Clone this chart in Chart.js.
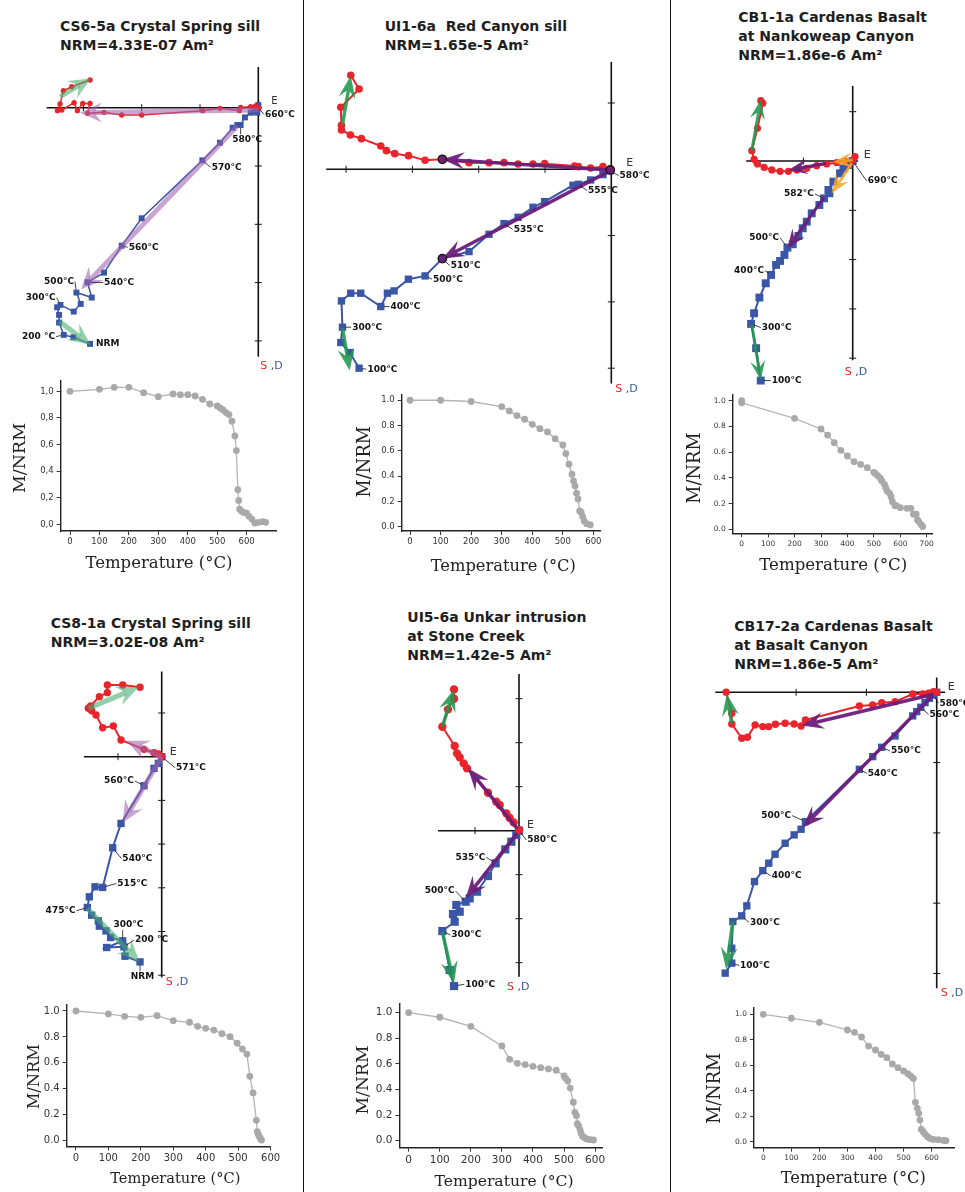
<!DOCTYPE html>
<html><head><meta charset="utf-8">
<script src="https://cdn.jsdelivr.net/npm/chart.js@4.4.1/dist/chart.umd.min.js"></script>
<style>
html,body{margin:0;padding:0;background:#fff;}
body{width:965px;height:1192px;position:relative;overflow:hidden;}
canvas{position:absolute;}
.ttl{position:absolute;font-family:"DejaVu Sans";font-weight:bold;font-size:14px;line-height:18.8px;color:#1e1e1e;white-space:pre;}
.sep{position:absolute;top:0;width:1.5px;height:1192px;background:#111;}
</style></head><body>
<div class="sep" style="left:302.5px"></div>
<div class="sep" style="left:669.5px"></div>
<script>
// ---------------- DATA ----------------
// Panel 1: CS6-5a
const p1Title = ['CS6-5a Crystal Spring sill', 'NRM=4.33E-07 Am²'];
const p1Horiz = [[-2.886,0.474],[-3.2,0.36],[-3.343,0.291],[-3.4,0.063],[-3.446,-0.051],[-3.371,-0.04],[-3.16,0.086],[-3.103,-0.051],[-3.011,0.074],[-2.886,0.074],[-2.931,-0.097],[-2.646,-0.08],[-2.343,-0.126],[-2.0,-0.126],[-0.954,-0.051],[-0.657,-0.011],[-0.326,-0.051],[-0.303,0.006],[-0.131,0.017],[-0.046,0.029],[0,0]];
const p1Vert = [[-2.886,-4.051],[-3.171,-3.937],[-3.337,-3.897],[-3.417,-3.686],[-3.417,-3.554],[-3.451,-3.423],[-3.394,-3.383],[-3.166,-3.497],[-3.046,-3.366],[-3.12,-3.171],[-2.857,-3.257],[-2.931,-2.994],[-2.646,-2.829],[-2.343,-2.366],[-2.0,-1.897],[-0.96,-0.903],[-0.657,-0.6],[-0.44,-0.343],[-0.36,-0.297],[-0.303,-0.297],[-0.229,-0.166],[-0.131,-0.086],[-0.057,-0.069],[0,0.046],[-0.017,-0.086],[0,0]];
const p1Arrows = [['green',-3.4,0.19,-2.874,0.503],['green',-3.411,-3.669,-2.874,-4.069],['purple',0,-0.04,-3.057,-0.086],['purple',-0.36,-0.314,-3.04,-3.114]];
const p1Labels = [[25,'660°C'],[19,'580°C'],[15,'570°C'],[13,'560°C'],[11,'540°C'],[9,'500°C'],[6,'300°C'],[2,'200 °C'],[0,'NRM']];
const p1Temp = [0,100,150,200,250,300,350,375,400,425,450,475,500,510,520,530,540,550,560,565,570,573,576,582,590,600,608,618,628,640,655,665];
const p1Mnrm = [1.0,1.015,1.03,1.03,0.99,0.96,0.98,0.975,0.975,0.965,0.94,0.905,0.89,0.875,0.86,0.84,0.825,0.775,0.665,0.555,0.26,0.18,0.115,0.1,0.09,0.085,0.06,0.04,0.01,0.015,0.02,0.015];

// Panel 2: UI1-6a
const p2Title = ['UI1-6a  Red Canyon sill', 'NRM=1.65e-5 Am²'];
const p2Horiz = [[-3.93,1.417],[-3.804,1.211],[-4.08,0.935],[-4.07,0.663],[-4.07,0.593],[-3.935,0.518],[-3.769,0.462],[-3.477,0.352],[-3.392,0.281],[-3.266,0.236],[-3.06,0.206],[-2.809,0.136],[-2.548,0.151],[-2.146,0.1],[-1.844,0.1],[-1.618,0.1],[-1.407,0.08],[-1.181,0.08],[-1.005,0.085],[-0.553,0.05],[-0.497,0.04],[-0.312,0.02],[-0.126,0.04],[-0.015,0]];
const p2Vert = [[-3.804,-3.0],[-3.945,-2.764],[-4.08,-2.613],[-4.055,-2.382],[-4.07,-1.985],[-3.93,-1.869],[-3.779,-1.869],[-3.477,-2.07],[-3.377,-1.869],[-3.276,-1.834],[-3.06,-1.658],[-2.809,-1.608],[-2.548,-1.347],[-2.146,-1.241],[-1.844,-0.98],[-1.618,-0.819],[-1.407,-0.724],[-1.181,-0.573],[-1.005,-0.487],[-0.578,-0.241],[-0.497,-0.226],[-0.312,-0.161],[-0.126,-0.08],[-0.015,-0.02]];
const p2Arrows = [['green',-4.055,0.668,-3.93,1.407],['green',-4.055,-2.397,-3.945,-3.035],['purple',-0.015,-0.01,-2.548,0.151],['purple',-0.015,-0.02,-2.548,-1.347]];
const p2Fit = [[-2.548,0.151],[-2.548,-1.347],[-0.015,-0.01]];
const p2Labels = [[23,'580°C'],[20,'555°C'],[15,'535°C'],[12,'510°C'],[11,'500°C'],[7,'400°C'],[3,'300°C'],[0,'100°C']];
const p2Temp = [0,100,200,300,325,350,375,400,425,450,475,500,510,520,530,535,540,545,550,555,560,565,570,578,590];
const p2Mnrm = [1.0,1.0,0.99,0.95,0.916,0.879,0.85,0.81,0.776,0.75,0.697,0.647,0.579,0.495,0.416,0.363,0.324,0.266,0.221,0.126,0.116,0.082,0.047,0.026,0.016];

// Panel 3: CB1-1a
const p3Title = ['CB1-1a Cardenas Basalt', 'at Nankoweap Canyon', 'NRM=1.86e-6 Am²'];
const p3Horiz = [[-1.865,1.223],[-1.824,1.169],[-1.932,0.662],[-2.047,0.209],[-2.0,0.034],[-1.932,-0.061],[-1.797,-0.128],[-1.642,-0.182],[-1.473,-0.209],[-1.304,-0.209],[-1.135,-0.182],[-0.932,-0.149],[-0.73,-0.095],[-0.527,-0.061],[-0.324,-0.034],[-0.155,-0.007],[0.047,0.088],[0,0]];
const p3Vert = [[-1.865,-4.453],[-1.959,-3.797],[-2.061,-3.304],[-2.0,-3.088],[-1.892,-2.77],[-1.764,-2.48],[-1.655,-2.311],[-1.554,-2.108],[-1.473,-2.027],[-1.385,-1.905],[-1.324,-1.757],[-1.216,-1.689],[-1.101,-1.52],[-1.014,-1.365],[-0.932,-1.23],[-0.831,-1.061],[-0.676,-0.892],[-0.581,-0.757],[-0.473,-0.655],[-0.493,-0.588],[-0.392,-0.419],[-0.257,-0.25],[-0.189,-0.149],[-0.088,-0.081],[0,0]];
const p3Arrows = [['green',-2.047,0.209,-1.865,1.236],['green',-2.047,-3.324,-1.865,-4.439],['purple',-0.541,-0.047,-1.304,-0.182],['purple',-0.581,-0.736,-1.324,-1.77],['orange',0,0.02,-0.405,-0.027],['orange',-0.02,-0.047,-0.426,-0.655]];
const p3Labels = [[24,'690°C'],[17,'582°C'],[10,'500°C'],[6,'400°C'],[2,'300°C'],[0,'100°C']];
const p3Temp = [0,0,200,300,325,350,375,400,425,450,475,500,505,515,525,530,540,545,550,560,565,570,580,585,600,625,640,650,660,665,670,678,685];
const p3Mnrm = [1.0,0.984,0.863,0.78,0.733,0.674,0.614,0.57,0.526,0.505,0.479,0.443,0.435,0.417,0.396,0.376,0.35,0.324,0.298,0.28,0.254,0.215,0.184,0.184,0.168,0.163,0.163,0.117,0.117,0.073,0.06,0.039,0.021];

// Panel 4: CS8-1a
const p4Title = ['CS8-1a Crystal Spring sill', 'NRM=3.02E-08 Am²'];
const p4Horiz = [[-0.496,1.588],[-0.893,1.641],[-1.244,1.641],[-1.244,1.466],[-1.427,1.374],[-1.626,1.16],[-1.679,1.107],[-1.603,1.053],[-1.504,0.954],[-1.351,0.664],[-1.107,0.702],[-0.931,0.382],[-0.405,0.168],[-0.176,0.092],[-0.076,0.061],[0,0]];
const p4Vert = [[-0.496,-4.695],[-0.84,-4.565],[-0.863,-4.351],[-1.26,-4.366],[-0.893,-4.214],[-1.168,-4.137],[-1.275,-3.985],[-1.427,-3.878],[-1.45,-3.756],[-1.603,-3.626],[-1.702,-3.45],[-1.656,-3.206],[-1.527,-2.977],[-1.351,-2.992],[-1.122,-2.084],[-0.931,-1.527],[-0.405,-0.664],[-0.176,-0.267],[-0.076,-0.153],[0,0]];
const p4Arrows = [['green',-1.679,1.107,-0.534,1.588],['green',-1.702,-3.473,-0.511,-4.695],['purple',0,0,-0.802,0.366],['purple',0,0,-0.893,-1.511]];
const p4Labels = [[19,'571°C'],[16,'560°C'],[14,'540°C'],[13,'515°C'],[10,'475°C'],[4,'300°C'],[2,'200 °C'],[0,'NRM']];
const p4Temp = [0,100,150,200,250,300,350,375,400,425,450,475,497,513,527,536,546,556,559,562,565,569,572];
const p4Mnrm = [1.0,0.977,0.959,0.951,0.964,0.925,0.913,0.882,0.866,0.853,0.825,0.802,0.751,0.707,0.668,0.496,0.368,0.157,0.069,0.049,0.033,0.013,0.005];

// Panel 5: UI5-6a
const p5Title = ['UI5-6a Unkar intrusion', 'at Stone Creek', 'NRM=1.42e-5 Am²'];
const p5Horiz = [[-1.477,3.212],[-1.477,3.0],[-1.614,2.758],[-1.742,2.364],[-1.462,1.924],[-1.409,1.758],[-1.348,1.667],[-1.258,1.53],[-1.182,1.417],[-0.705,0.864],[-0.515,0.659],[-0.439,0.583],[-0.288,0.394],[-0.212,0.288],[-0.121,0.189],[0,0.015]];
const p5Vert = [[-1.477,-3.53],[-1.576,-3.167],[-1.742,-2.28],[-1.462,-2.068],[-1.5,-1.894],[-1.348,-1.841],[-1.424,-1.689],[-1.212,-1.614],[-1.121,-1.538],[-0.955,-1.386],[-0.705,-1.03],[-0.53,-0.742],[-0.311,-0.424],[-0.174,-0.25],[-0.061,-0.098],[0,0]];
const p5Arrows = [['green',-1.742,2.364,-1.477,3.212],['green',-1.742,-2.295,-1.477,-3.47],['purple',-0.045,0.053,-1.159,1.417],['purple',-0.045,-0.061,-1.212,-1.538]];
const p5Labels = [[15,'580°C'],[11,'535°C'],[7,'500°C'],[2,'300°C'],[0,'100°C']];
const p5Temp = [0,100,200,300,325,350,375,400,425,450,475,500,505,512,520,530,535,540,543,547,552,555,559,566,573,584,595];
const p5Mnrm = [1.0,0.964,0.893,0.74,0.635,0.604,0.594,0.581,0.57,0.56,0.55,0.505,0.487,0.466,0.411,0.3,0.221,0.195,0.133,0.115,0.083,0.057,0.036,0.023,0.013,0.008,0.005];

// Panel 6: CB17-2a
const p6Title = ['CB17-2a Cardenas Basalt', 'at Basalt Canyon', 'NRM=1.86e-5 Am²'];
const p6Horiz = [[-2.995,0],[-2.915,-0.299],[-2.915,-0.45],[-2.773,-0.654],[-2.692,-0.64],[-2.583,-0.464],[-2.474,-0.488],[-2.389,-0.488],[-2.294,-0.455],[-2.156,-0.441],[-2.028,-0.45],[-1.929,-0.479],[-1.867,-0.393],[-1.1,-0.194],[-0.91,-0.18],[-0.782,-0.147],[-0.592,-0.133],[-0.341,-0.024],[-0.199,-0.024],[-0.118,-0.014],[-0.047,0.009],[0,0]];
const p6Vert = [[-3.009,-3.995],[-2.915,-3.853],[-2.915,-3.64],[-2.9,-3.261],[-2.773,-3.18],[-2.701,-3.038],[-2.592,-2.692],[-2.474,-2.536],[-2.389,-2.431],[-2.299,-2.303],[-2.156,-2.147],[-2.028,-2.028],[-1.929,-1.948],[-1.867,-1.839],[-1.1,-1.095],[-0.91,-0.915],[-0.782,-0.782],[-0.592,-0.621],[-0.341,-0.336],[-0.284,-0.275],[-0.227,-0.213],[-0.166,-0.147],[-0.104,-0.085],[-0.047,-0.038],[0,0]];
const p6Arrows = [['green',-2.915,-0.45,-2.986,-0.024],['green',-2.9,-3.261,-2.995,-3.938],['purple',-0.047,-0.028,-1.919,-0.474],['purple',-0.057,-0.047,-1.905,-1.924]];
const p6Labels = [[23,'580°C'],[20,'560°C'],[16,'550°C'],[14,'540°C'],[13,'500°C'],[7,'400°C'],[4,'300°C'],[1,'100°C']];
const p6Temp = [0,100,200,300,325,350,375,400,420,440,460,480,500,515,525,535,542,549,554,558,563,570,577,585,594,606,624,642,651];
const p6Mnrm = [1.0,0.969,0.937,0.877,0.859,0.822,0.751,0.72,0.686,0.66,0.61,0.581,0.555,0.534,0.516,0.497,0.309,0.262,0.223,0.17,0.097,0.079,0.058,0.039,0.026,0.018,0.016,0.01,0.008];

const yTickVals = [0,0.2,0.4,0.6,0.8,1.0];
const xTick600 = [0,100,200,300,400,500,600];
const xTick700 = [0,100,200,300,400,500,600,700];
const xAxisTitle = 'Temperature (°C)';
const yAxisTitle = 'M/NRM';

// ---------------- STYLE / LAYOUT ----------------
const RED = '#e9252b', BLUE = '#3a56a6';
const ARROW_STYLES = {
  soft:  {shaft:5, headLen:22, headW:20, colors:{green:'rgba(70,172,112,0.58)', purple:'rgba(160,98,174,0.58)'}},
  solid: {shaft:3.5, headLen:22, headW:17, colors:{green:'rgba(34,150,80,0.88)', purple:'rgba(108,30,122,0.95)', orange:'rgba(246,166,40,0.85)'}},
  small: {shaft:3, headLen:19, headW:15, colors:{green:'rgba(34,150,80,0.88)', purple:'rgba(108,30,122,0.95)', orange:'rgba(246,166,40,0.85)'}}
};
const zLayouts = [
  {title:[60,17.4], canvas:[0,55,302,325], origin:[258.3,107.7], unit:58.3, hAxis:[-3.63,0.06], vAxis:[0.70,-4.27], xTicks:[-1,-2,-3], yTicks:[-1,-2,-3,-4], E:[13,-6], Efont:10, SD:[2,9], redR:2.7, blueR:4.2, lw:1.5, arrow:'soft',
   lab:[[6.7,6.7],[-8.3,14.3],[9.3,7],[7,1.7],[16.7,0.3],[-32.3,-11],[-34.7,-7.3],[-41.7,1.7],[6,0]]},
  {title:[384.7,17.4], canvas:[305,50,363,345], origin:[611.3,169.3], unit:66.3, hAxis:[-4.3,0.02], vAxis:[1.62,-3.23], xTicks:[-1,-2,-3,-4], yTicks:[1,-1,-2,-3], E:[15,-6], Efont:11, SD:[4,6], redR:3.8, blueR:5.2, lw:2, arrow:'solid',
   lab:[[9.3,5],[9.7,6.3],[9.7,5.7],[8.3,7],[8,3.3],[9.7,0],[9.7,0],[8.3,1]]},
  {title:[738.3,8], canvas:[672,70,293,320], origin:[852.7,161], unit:49.3, hAxis:[-2.16,0.11], vAxis:[1.52,-4.04], xTicks:[-1,-2], yTicks:[1,-1,-2,-3,-4], E:[11,-6], Efont:11, SD:[-8,12], redR:3.6, blueR:5.6, lw:2, arrow:'small',
   lab:[[15,20],[-40,-4.3],[-38.3,-10],[-37,-4.3],[10.7,3.7],[11,0]]},
  {title:[50.7,614], canvas:[0,660,302,335], origin:[161.7,756.7], unit:43.7, hAxis:[-1.78,0.09], vAxis:[1.95,-5.05], xTicks:[-1], yTicks:[1,-1,-2,-3,-4,-5], E:[8,-5], Efont:11, SD:[4,5], redR:3.7, blueR:5.2, lw:2, arrow:'soft',
   lab:[[14.3,11],[-40,-4.7],[9.7,10.7],[14.7,-4],[-41.7,3.3],[-9.3,-15.7],[11,-6.7],[-9.3,14.3]]},
  {title:[407.3,608], canvas:[305,660,363,335], origin:[519,830.7], unit:44, hAxis:[-1.84,0.09], vAxis:[3.56,-3.32], xTicks:[-1], yTicks:[3,2,1,-1,-2,-3], E:[8,-6], Efont:11, SD:[-12,10], redR:4.2, blueR:5.8, lw:2, arrow:'solid',
   lab:[[8.3,9.3],[-40.3,-6],[-41,-10.7],[9,4],[11.3,-1.7]]},
  {title:[734.3,617.4], canvas:[672,665,293,340], origin:[936.7,692.3], unit:70.3, hAxis:[-3.15,0.12], vAxis:[0.21,-4.21], xTicks:[-1,-2,-3], yTicks:[-1,-2,-3,-4], E:[11,-5], Efont:11, SD:[4,5], redR:3.7, blueR:5.2, lw:2, arrow:'solid',
   lab:[[6,8.3],[8.7,7],[9.3,3.7],[8.3,4],[-44.3,-6],[9,5.3],[8.3,6.7],[8.3,2.3]]}
];
const dLayouts = [
  {x0:60.7, x1:276, y0:380.7, y1:531, xmin:-31.6, xmax:699.7, ymin:-0.05, ymax:1.08, xt:xTick600, fs:8.5, comma:true, xT:[159,564], xTs:16.5, yT:[20,458], yTs:17.5},
  {x0:401.7, x1:600, y0:394.3, y1:531, xmin:-27.2, xmax:621.7, ymin:-0.032, ymax:1.047, xt:xTick600, fs:8.5, comma:false, xT:[503.3,566.7], xTs:16.3, yT:[365,461.7], yTs:17.8},
  {x0:732.7, x1:932.7, y0:394.3, y1:533.3, xmin:-34.1, xmax:722.6, ymin:-0.031, ymax:1.05, xt:xTick700, fs:7.5, comma:false, xT:[833.3,566], xTs:16.6, yT:[695,468], yTs:17.8},
  {x0:66.7, x1:270.8, y0:1004.5, y1:1146.5, xmin:-28.6, xmax:600.6, ymin:-0.045, ymax:1.05, xt:xTick600, fs:10, comma:false, xT:[175.3,1179.3], xTs:14.6, yT:[35,1076.7], yTs:16.3},
  {x0:399.4, x1:602, y0:1003.3, y1:1147.7, xmin:-29.9, xmax:622.3, ymin:-0.055, ymax:1.073, xt:xTick600, fs:10.5, comma:false, xT:[504,1181.7], xTs:15.6, yT:[363.3,1080], yTs:17.2},
  {x0:754, x1:954.3, y0:1007.7, y1:1147.7, xmin:-33.1, xmax:680.7, ymin:-0.047, ymax:1.052, xt:xTick600, fs:7.5, comma:false, xT:[853.3,1178.3], xTs:16.3, yT:[715,1088.3], yTs:17.7}
];

// ---------------- HELPERS ----------------
function addCanvas(l,t,w,h){
  const c = document.createElement('canvas');
  c.width = w; c.height = h;
  c.style.left = l+'px'; c.style.top = t+'px';
  c.style.width = w+'px'; c.style.height = h+'px';
  document.body.appendChild(c);
  return c;
}
function addTitle(lines, pos){
  const d = document.createElement('div');
  d.className = 'ttl';
  d.style.left = pos[0]+'px'; d.style.top = pos[1]+'px';
  d.textContent = lines.join('\n');
  document.body.appendChild(d);
}
function drawArrow(ctx, x1,y1,x2,y2, color, st){
  const dx=x2-x1, dy=y2-y1, len=Math.hypot(dx,dy);
  const ux=dx/len, uy=dy/len, nx=-uy, ny=ux;
  const L=st.headLen, W=st.headW/2, notch=L*0.62;
  ctx.save();
  ctx.strokeStyle=color; ctx.fillStyle=color; ctx.lineWidth=st.shaft; ctx.lineCap='butt';
  ctx.beginPath(); ctx.moveTo(x1,y1); ctx.lineTo(x2-ux*notch, y2-uy*notch); ctx.stroke();
  ctx.beginPath();
  ctx.moveTo(x2,y2);
  ctx.lineTo(x2-ux*L+nx*W, y2-uy*L+ny*W);
  ctx.lineTo(x2-ux*notch, y2-uy*notch);
  ctx.lineTo(x2-ux*L-nx*W, y2-uy*L-ny*W);
  ctx.closePath(); ctx.fill();
  ctx.restore();
}

function zijderveld(title, horiz, vert, arrows, labels, fit, L){
  addTitle(title, L.title);
  const [cl,ct,cw,ch] = L.canvas, [ox,oy] = L.origin, u = L.unit;
  const cv = addCanvas(cl,ct,cw,ch);
  const st = ARROW_STYLES[L.arrow];
  const plugin = {
    id:'zij',
    beforeDatasetsDraw(chart){
      const ctx=chart.ctx, X=v=>chart.scales.x.getPixelForValue(v), Y=v=>chart.scales.y.getPixelForValue(v);
      ctx.save();
      ctx.strokeStyle='#111'; ctx.lineWidth=1.6;
      ctx.beginPath(); ctx.moveTo(X(L.hAxis[0]),Y(0)); ctx.lineTo(X(L.hAxis[1]),Y(0)); ctx.stroke();
      ctx.beginPath(); ctx.moveTo(X(0),Y(L.vAxis[0])); ctx.lineTo(X(0),Y(L.vAxis[1])); ctx.stroke();
      ctx.lineWidth=1;
      L.xTicks.forEach(t=>{ctx.beginPath(); ctx.moveTo(X(t),Y(0)-3.5); ctx.lineTo(X(t),Y(0)+3.5); ctx.stroke();});
      L.yTicks.forEach(t=>{ctx.beginPath(); ctx.moveTo(X(0)-3.5,Y(t)); ctx.lineTo(X(0)+3.5,Y(t)); ctx.stroke();});
      ctx.restore();
    },
    afterDatasetsDraw(chart){
      const ctx=chart.ctx, X=v=>chart.scales.x.getPixelForValue(v), Y=v=>chart.scales.y.getPixelForValue(v);
      arrows.forEach(a=>drawArrow(ctx, X(a[1]),Y(a[2]),X(a[3]),Y(a[4]), st.colors[a[0]], st));
      ctx.save();
      (fit||[]).forEach(p=>{
        ctx.beginPath(); ctx.arc(X(p[0]),Y(p[1]),4.2,0,Math.PI*2);
        ctx.fillStyle='rgba(108,30,122,0.9)'; ctx.fill();
        ctx.lineWidth=1.3; ctx.strokeStyle='#111'; ctx.stroke();
      });
      ctx.font='bold 9px "DejaVu Sans"'; ctx.textBaseline='middle'; ctx.textAlign='left';
      labels.forEach((lb,i)=>{
        const p=vert[lb[0]], px=X(p[0]), py=Y(p[1]);
        const lx=px+L.lab[i][0], ly=py+L.lab[i][1];
        const w=ctx.measureText(lb[1]).width;
        ctx.fillStyle='#111'; ctx.fillText(lb[1], lx, ly);
        let ex, ey, sx, sy;
        if (lx > px+1) { ex=lx-1; ey=ly; }
        else if (lx+w < px-1) { ex=lx+w+1; ey=ly; }
        else { ex=px; ey = ly>py ? ly-5 : ly+5; }
        const d=Math.hypot(ex-px,ey-py);
        if (d>5){
          sx=px+(ex-px)/d*3; sy=py+(ey-py)/d*3;
          ctx.strokeStyle='#111'; ctx.lineWidth=0.8;
          ctx.beginPath(); ctx.moveTo(sx,sy); ctx.lineTo(ex,ey); ctx.stroke();
        }
      });
      ctx.font=L.Efont+'px "DejaVu Sans"'; ctx.fillStyle='#333';
      ctx.fillText('E', X(0)+L.E[0], Y(0)+L.E[1]);
      let sx0=X(0)+L.SD[0], sy0=Y(L.vAxis[1])+L.SD[1];
      ctx.font='11px "DejaVu Sans"';
      ctx.fillStyle=RED; ctx.fillText('S', sx0, sy0); sx0+=ctx.measureText('S ').width;
      ctx.fillStyle='#444'; ctx.fillText(',', sx0, sy0); sx0+=ctx.measureText(',').width;
      ctx.fillStyle=BLUE; ctx.fillText('D', sx0, sy0);
      ctx.restore();
    }
  };
  new Chart(cv, {
    type:'scatter',
    data:{datasets:[
      {data:horiz.map(p=>({x:p[0],y:p[1]})), showLine:true, borderColor:RED, backgroundColor:RED, borderWidth:L.lw, pointStyle:'circle', pointRadius:L.redR, pointBorderWidth:0, clip:false},
      {data:vert.map(p=>({x:p[0],y:p[1]})), showLine:true, borderColor:BLUE, backgroundColor:BLUE, borderWidth:L.lw, pointStyle:'rect', pointRadius:L.blueR, pointBorderWidth:0, clip:false}
    ]},
    options:{
      responsive:false, animation:false, devicePixelRatio:1, events:[],
      layout:{padding:0, autoPadding:false},
      plugins:{legend:{display:false}, tooltip:{enabled:false}},
      scales:{
        x:{type:'linear', display:false, min:(cl-ox)/u, max:(cl+cw-ox)/u},
        y:{type:'linear', display:false, min:(oy-ct-ch)/u, max:(oy-ct)/u}
      }
    },
    plugins:[plugin]
  });
}

function demag(temps, vals, L){
  const WY=70, HX=50, PT=10, PR=20;
  const cl=Math.floor(L.x0-WY), ct=Math.floor(L.y0-PT);
  const cw=Math.ceil(L.x1+PR)-cl, ch=Math.ceil(L.y1+HX)-ct;
  const padTop=L.y0-ct, padRight=cl+cw-L.x1, yW=L.x0-cl, xH=ct+ch-L.y1;
  const cv=addCanvas(cl,ct,cw,ch);
  const plugin={
    id:'titles',
    afterDraw(chart){
      const ctx=chart.ctx; ctx.save();
      ctx.fillStyle='#222'; ctx.textAlign='center'; ctx.textBaseline='middle';
      ctx.font=L.xTs+'px "DejaVu Serif"';
      ctx.fillText(xAxisTitle, L.xT[0]-cl, L.xT[1]-ct);
      ctx.translate(L.yT[0]-cl, L.yT[1]-ct); ctx.rotate(-Math.PI/2);
      ctx.font=L.yTs+'px "DejaVu Serif"';
      ctx.fillText(yAxisTitle, 0, 0);
      ctx.restore();
    }
  };
  const tickFont={family:'DejaVu Sans', size:L.fs};
  new Chart(cv,{
    type:'scatter',
    data:{datasets:[{data:temps.map((t,i)=>({x:t,y:vals[i]})), showLine:true, borderColor:'#b4b4b4', borderWidth:1.3, backgroundColor:'#a9a9a9', pointRadius:3.4, pointBorderWidth:0, clip:false}]},
    options:{
      responsive:false, animation:false, devicePixelRatio:1, events:[],
      layout:{padding:{left:0, top:padTop, right:padRight, bottom:0}, autoPadding:false},
      plugins:{legend:{display:false}, tooltip:{enabled:false}},
      scales:{
        x:{type:'linear', min:L.xmin, max:L.xmax,
           afterBuildTicks:s=>{s.ticks=L.xt.map(v=>({value:v}));},
           afterFit:s=>{s.height=xH;},
           grid:{display:true, drawOnChartArea:false, drawTicks:true, tickLength:4, color:'#333', lineWidth:1},
           border:{display:true, color:'#222', width:1.4},
           ticks:{font:tickFont, color:'#333', padding:2, maxRotation:0, autoSkip:false, callback:v=>String(v)}},
        y:{type:'linear', min:L.ymin, max:L.ymax,
           afterBuildTicks:s=>{s.ticks=yTickVals.map(v=>({value:v}));},
           afterFit:s=>{s.width=yW;},
           grid:{display:true, drawOnChartArea:false, drawTicks:true, tickLength:4, color:'#333', lineWidth:1},
           border:{display:true, color:'#222', width:1.4},
           ticks:{font:tickFont, color:'#333', padding:3, autoSkip:false, callback:v=>{const s=Number(v).toFixed(1); return L.comma?s.replace('.',','):s;}}}
      }
    },
    plugins:[plugin]
  });
}

// ---------------- BUILD ----------------
zijderveld(p1Title, p1Horiz, p1Vert, p1Arrows, p1Labels, null, zLayouts[0]);
zijderveld(p2Title, p2Horiz, p2Vert, p2Arrows, p2Labels, p2Fit, zLayouts[1]);
zijderveld(p3Title, p3Horiz, p3Vert, p3Arrows, p3Labels, null, zLayouts[2]);
zijderveld(p4Title, p4Horiz, p4Vert, p4Arrows, p4Labels, null, zLayouts[3]);
zijderveld(p5Title, p5Horiz, p5Vert, p5Arrows, p5Labels, null, zLayouts[4]);
zijderveld(p6Title, p6Horiz, p6Vert, p6Arrows, p6Labels, null, zLayouts[5]);
demag(p1Temp, p1Mnrm, dLayouts[0]);
demag(p2Temp, p2Mnrm, dLayouts[1]);
demag(p3Temp, p3Mnrm, dLayouts[2]);
demag(p4Temp, p4Mnrm, dLayouts[3]);
demag(p5Temp, p5Mnrm, dLayouts[4]);
demag(p6Temp, p6Mnrm, dLayouts[5]);
</script>
</body></html>
